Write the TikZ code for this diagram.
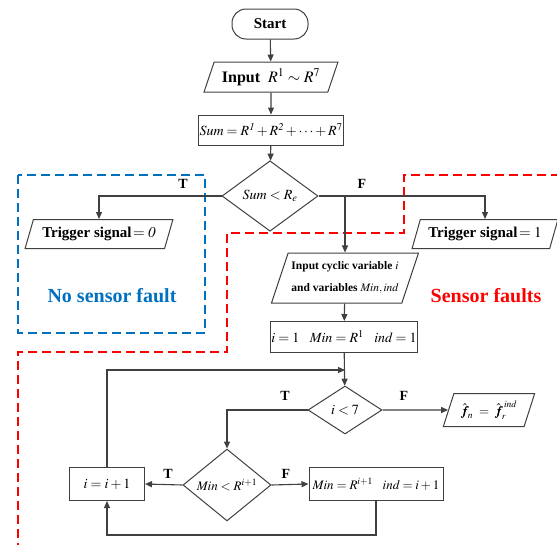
\documentclass[tikz,border=0pt]{standalone}
\usepackage{mathptmx}
\usepackage{bm}
\usepackage{fontspec}
\setmainfont{Liberation Serif}
\usetikzlibrary{shapes.geometric,arrows.meta}
\definecolor{ln}{RGB}{64,64,64}
\definecolor{fblue}{RGB}{0,112,192}
\definecolor{fred}{RGB}{255,0,0}
\begin{document}
\begin{tikzpicture}[x=1pt,y=-1pt,
  lne/.style={draw=ln, line width=1.1pt},
  arr/.style={lne, -{Triangle[length=7pt,width=6pt]}},
  base/.style={draw=ln, line width=1pt, inner sep=1pt, font=\fontsize{14}{16}\selectfont, text=black},
  boxn/.style={base, rectangle},
  para/.style={base, trapezium, trapezium left angle=65, trapezium right angle=115, trapezium stretches=true},
  dia/.style={base, diamond},
  lbl/.style={font=\bfseries\fontsize{14}{16}\selectfont},
  zone/.style={line width=1.6pt, dash pattern=on 9pt off 5pt},
  zonetxt/.style={font=\bfseries\fontsize{20}{22}\selectfont}
]
\useasboundingbox (0,0) rectangle (557,544);

% zones
\draw[zone, fblue] (18,175) rectangle (205,333);
\draw[zone, fred] (560,175) -- (404,175) -- (404,233) -- (227,233) -- (227,352) -- (18,352) -- (18,547);
\node[zonetxt, text=fblue] (nsf) at (112,296) {No sensor fault};
\node[zonetxt, text=fred] (sf) at (486,296) {Sensor faults};

% nodes
\node[boxn, rounded corners=14pt, minimum width=76pt, minimum height=30pt, font=\fontsize{15}{17}\selectfont] (start) at (270,24) {\bfseries Start};
\node[para, minimum width=134pt, minimum height=30pt] (in) at (271,77) {\fontsize{16}{18}\selectfont\bfseries Input\ \ \mdseries$R^{1}\sim R^{7}$};
\node[boxn, minimum width=133pt, minimum height=30pt] (sum) at (271,130) {$\mathit{Sum}=R^{\mathit{1}}+R^{\mathit{2}}+\cdots+R^{7}$};
\node[dia, minimum width=96pt, minimum height=56pt] (d1) at (270,196) {$\mathit{Sum}<R_e$};
\node[para, minimum width=148pt, minimum height=29pt, font=\fontsize{15}{17}\selectfont] (t0) at (99,234) {\bfseries Trigger signal\mdseries$\,=\mathit{0}$};
\node[para, minimum width=146pt, minimum height=29pt, font=\fontsize{15}{17}\selectfont] (t1) at (485,234) {\bfseries Trigger signal\mdseries$\,=1$};
\node[para, minimum width=147pt, minimum height=50pt, align=center, font=\fontsize{11.5}{22}\selectfont] (ic) at (345,278) {\bfseries Input cyclic variable \mdseries$i$\\ \bfseries and variables \mdseries$\mathit{Min},\mathit{ind}$};
\node[boxn, minimum width=146pt, minimum height=31pt] (init) at (344,337) {$i=1\ \ \ \mathit{Min}=R^{1}\ \ \ \mathit{ind}=1$};
\node[dia, minimum width=74pt, minimum height=48pt] (d2) at (345,410) {$i<7$};
\node[para, minimum width=92pt, minimum height=33pt, inner sep=0pt, font=\fontsize{13}{15}\selectfont] (fo) at (489,410) {$\hat{\bm f}_{\!n}\;=\;\hat{\bm f}_{\!r}^{\,\mathit{ind}}$};
\node[dia, minimum width=88pt, minimum height=58pt, inner sep=0pt, font=\fontsize{13}{15}\selectfont] (d3) at (227,485) {$\mathit{Min}<R^{i+1}$};
\node[boxn, minimum width=75pt, minimum height=33pt] (inc) at (107,484) {$i=i+1$};
\node[boxn, minimum width=134pt, minimum height=33pt, font=\fontsize{13}{15}\selectfont] (upd) at (376,484) {$\mathit{Min}=R^{i+1}\ \ \ \mathit{ind}=i+1$};

% labels
\node[lbl] (lt1) at (183,184) {T};
\node[lbl] (lf1) at (362,184) {F};
\node[lbl] (lt2) at (285,396) {T};
\node[lbl] (lf2) at (404,396) {F};
\node[lbl] (lt3) at (168,474) {T};
\node[lbl] (lf3) at (286,474) {F};

% connectors
\draw[arr] (start) -- (in);
\draw[arr] (in) -- (sum);
\draw[arr] (sum) -- (d1);
\draw[arr] (d1.west) -| (t0.north);
\draw[arr] (d1.east) -| (t1.north);
\coordinate (j1) at (d1.east -| ic.north);
\draw[arr] (j1) -- (ic.north);
\draw[arr] (ic) -- (init);
\draw[arr] (init) -- (d2);
\draw[arr] (d2.east) -- (fo.west);
\draw[arr] (d2.west) -| (d3.north);
\draw[arr] (d3.west) -- (inc.east);
\draw[arr] (d3.east) -- (upd.west);
\coordinate (bt) at (upd.south |- 0,535);
\draw[arr] (upd.south) -- (bt) -| (inc.south);
\coordinate (tp) at (d2.north |- 0,370);
\draw[arr] (inc.north) |- (tp);
\end{tikzpicture}
\end{document}
